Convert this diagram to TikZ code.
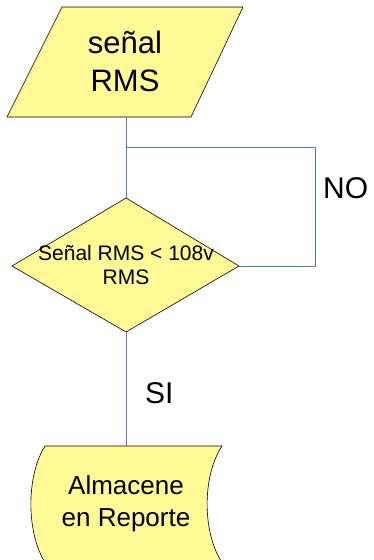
\documentclass[tikz,border=0pt]{standalone}
\usepackage{fontspec}
\setmainfont{Liberation Sans}
\definecolor{flowyellow}{RGB}{255,250,150}
\definecolor{linkblue}{RGB}{74,126,187}
\begin{document}
\begin{tikzpicture}[x=1pt, y=-1pt,
  box/.style={fill=flowyellow, draw=black, line width=0.6pt},
  link/.style={draw=linkblue, line width=0.9pt},
  label/.style={inner sep=0pt, align=center}]

  \useasboundingbox (0,0) rectangle (373,560);
  \clip (0,0) rectangle (373,560);

  % -- Input (parallelogram) --
  \draw[box] (62,7) -- (243,7) -- (191,117) -- (7,117) -- cycle;
  \coordinate (in-bot) at (126,117);
  \node[label, font=\fontsize{31}{38}\selectfont] (in) at (125,61) {señal\\RMS};

  % -- Decision --
  \draw[box] (126,198) -- (239,266) -- (126,332) -- (12,266) -- cycle;
  \coordinate (dec-top) at (126,198);
  \coordinate (dec-right) at (239,266);
  \coordinate (dec-bot) at (126,332);
  \node[label, font=\fontsize{21}{24}\selectfont] (dec) at (126,264.5) {Señal RMS < 108v\\RMS};

  % -- Stored data (bottom edge falls off the page) --
  \draw[box] (45,446) -- (222,446) .. controls (202,476) and (202,534) .. (223,564)
    -- (46,564) .. controls (26,534) and (26,476) .. (45,446) -- cycle;
  \coordinate (out-top) at (126,446);
  \node[label, font=\fontsize{26}{32}\selectfont] (out) at (126,504) {Almacene\\en Reporte};

  % -- Connectors --
  \coordinate (join) at (126,147);
  \draw[link] (in-bot) -- (dec-top);
  \draw[link] (dec-right) -- ++(76,0) |- (join);
  \draw[link] (dec-bot) -- (out-top);

  % -- Branch labels --
  \node[anchor=base west, inner sep=0pt, font=\fontsize{30}{36}\selectfont] (no) at (323,198) {NO};
  \node[anchor=base west, inner sep=0pt, font=\fontsize{30}{36}\selectfont] (si) at (145,403) {SI};

\end{tikzpicture}
\end{document}
